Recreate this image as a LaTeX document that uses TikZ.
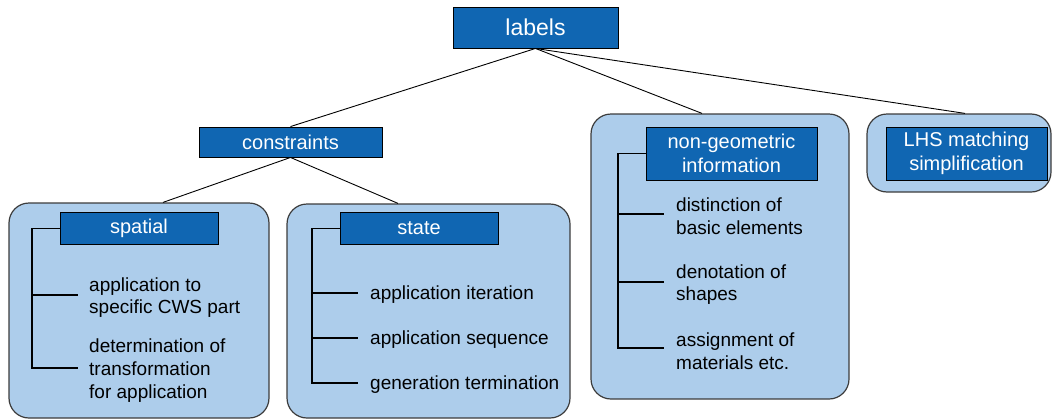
\documentclass[tikz,border=0pt]{standalone}
\usepackage{fontspec}
\setmainfont{Liberation Sans}
\usetikzlibrary{calc}
\definecolor{hdrblue}{RGB}{16,102,178}
\definecolor{panelblue}{RGB}{173,205,235}
\definecolor{panelline}{RGB}{60,60,60}
\tikzset{
  hdr/.style={draw=black, line width=0.9pt, fill=hdrblue, text=white, inner sep=0pt, align=center,
              font=\fontsize{20}{24}\selectfont},
  panel/.style={draw=panelline, line width=1.2pt, fill=panelblue, rounded corners=20pt, inner sep=0pt},
  item/.style={anchor=west, inner sep=0pt, align=left, font=\fontsize{19}{22.6}\selectfont},
  conn/.style={draw=black, line width=0.9pt},
  tree/.style={draw=black, line width=1.3pt},
  tw/.style={xshift=-57.5pt},
}
\begin{document}
\begin{tikzpicture}[x=1pt,y=-1pt]
\useasboundingbox (0,0) rectangle (1052,418);
% panels
\node[panel, minimum width=260pt, minimum height=215pt] (sppanel) at (139,310.5) {};
\node[panel, minimum width=283pt, minimum height=214pt] (stpanel) at (428.5,311) {};
\node[panel, minimum width=258pt, minimum height=285pt] (ngpanel) at (720,256.5) {};
\node[panel, minimum width=184pt, minimum height=78pt] (lhspanel) at (959,153) {};
% headers
\node[hdr, minimum width=165pt, minimum height=41pt, font=\fontsize{23}{27}\selectfont] (labels) at (535.5,27.5) {labels};
\node[hdr, minimum width=183pt, minimum height=30pt] (constraints) at (290.5,142) {constraints};
\node[hdr, minimum width=158pt, minimum height=32pt] (spatial) at (139,228.5) {spatial};
\node[hdr, minimum width=158pt, minimum height=32pt] (state) at (419,228.5) {state};
\node[hdr, minimum width=171pt, minimum height=53pt] (nongeo) at (731.5,153.5) {non-geometric\\information};
\node[hdr, minimum width=161pt, minimum height=53pt] (lhs) at (966.5,153.5) {LHS matching\\simplification};
% items
\node[item] (sp1) at (89,297.5) {application to\\specific CWS part};
\node[item] (sp2) at (89,370.5) {determination of\\transformation\\for application};
\node[item] (st1) at (370,295) {application iteration};
\node[item] (st2) at (370,340) {application sequence};
\node[item] (st3) at (370,385) {generation termination};
\node[item] (ng1) at (676,216.5) {distinction of\\basic elements};
\node[item] (ng2) at (676,284.5) {denotation of\\shapes};
\node[item] (ng3) at (676,351) {assignment of\\materials etc.};
% branch end points
\coordinate (sp1e) at (78,295);   \coordinate (sp2e) at (78,368);
\coordinate (st1e) at (358,293);  \coordinate (st2e) at (358,338);  \coordinate (st3e) at (358,383);
\coordinate (ng1e) at (664,214);  \coordinate (ng2e) at (664,282);  \coordinate (ng3e) at (664,348);
% connectors
\draw[conn] (labels.south) -- (constraints.north);
\draw[conn] (labels.south) -- ([xshift=-18pt]ngpanel.north);
\draw[conn] (labels.south) -- ([xshift=6pt]lhspanel.north);
\draw[conn] (constraints.south) -- ([xshift=24pt]sppanel.north);
\draw[conn] (constraints.south) -- ([xshift=-30.5pt]stpanel.north);
% trees
\draw[tree] (spatial.west) -| ([xshift=-46pt]sp2e) -- (sp2e);
\draw[tree] ([xshift=-46pt]sp1e) -- (sp1e);
\draw[tree] (state.west) -| ([xshift=-46pt]st3e) -- (st3e);
\draw[tree] ([xshift=-46pt]st1e) -- (st1e);
\draw[tree] ([xshift=-46pt]st2e) -- (st2e);
\draw[tree] (nongeo.west) -| ([xshift=-46pt]ng3e) -- (ng3e);
\draw[tree] ([xshift=-46pt]ng1e) -- (ng1e);
\draw[tree] ([xshift=-46pt]ng2e) -- (ng2e);
\end{tikzpicture}
\end{document}
